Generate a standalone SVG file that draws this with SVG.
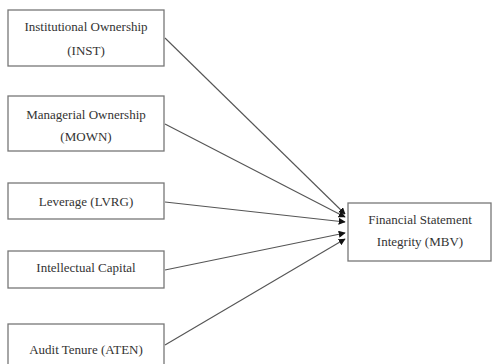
<svg xmlns="http://www.w3.org/2000/svg" width="496" height="364" viewBox="0 0 496 364">
<style>
.box{fill:#fff;stroke:#777;stroke-width:1.3}
.t{font-family:'Liberation Serif','Times New Roman','DejaVu Serif',serif;font-size:13px;fill:#333;text-anchor:middle}
.c{stroke:#555;stroke-width:1.1;fill:none;marker-end:url(#ah)}
</style>
<defs>
<marker id="ah" viewBox="0 0 10 10" refX="9" refY="5" markerWidth="7" markerHeight="7" markerUnits="userSpaceOnUse" orient="auto">
<path d="M0,0 L10,5 L0,10 z" fill="#111"/>
</marker>
</defs>
<rect width="496" height="364" fill="#fff"/>
<g id="connectors">
<line class="c" x1="165" y1="38" x2="345" y2="214"/>
<line class="c" x1="165" y1="124" x2="345" y2="217"/>
<line class="c" x1="165" y1="202" x2="345" y2="222"/>
<line class="c" x1="165" y1="270" x2="345" y2="233"/>
<line class="c" x1="165" y1="345" x2="345" y2="239"/>
</g>
<g id="inst">
<rect class="box" x="8" y="10" width="156" height="56"/>
<text class="t" x="86" y="31">Institutional Ownership</text>
<text class="t" x="86" y="55">(INST)</text>
</g>
<g id="mown">
<rect class="box" x="8" y="96" width="156" height="55"/>
<text class="t" x="86" y="119">Managerial Ownership</text>
<text class="t" x="86" y="141">(MOWN)</text>
</g>
<g id="lvrg">
<rect class="box" x="8" y="183" width="156" height="36"/>
<text class="t" x="86" y="206">Leverage (LVRG)</text>
</g>
<g id="ic">
<rect class="box" x="8" y="251" width="156" height="37"/>
<text class="t" x="86" y="272">Intellectual Capital</text>
</g>
<g id="aten">
<rect class="box" x="8" y="324" width="156" height="44"/>
<text class="t" x="86" y="354">Audit Tenure (ATEN)</text>
</g>
<g id="mbv">
<rect class="box" x="348" y="203" width="143" height="58"/>
<text class="t" x="420" y="224">Financial Statement</text>
<text class="t" x="420" y="246">Integrity (MBV)</text>
</g>
</svg>
